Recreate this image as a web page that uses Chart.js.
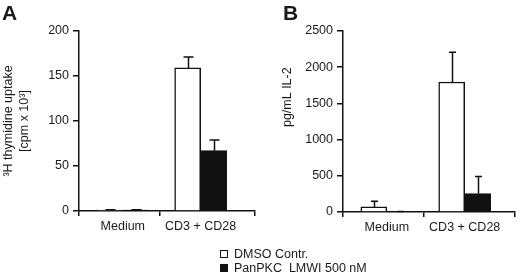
<!DOCTYPE html>
<html>
<head>
<meta charset="utf-8">
<script src="https://cdn.jsdelivr.net/npm/chart.js@4/dist/chart.umd.min.js"></script>
<style>
  html, body { margin: 0; padding: 0; background: #fff; }
  body { width: 520px; height: 275px; position: relative; overflow: hidden;
         font-family: "Liberation Sans", Arial, sans-serif; color: #1a1a1a; }
  canvas { position: absolute; top: 0; }
  #cA { left: 0; }
  #cB { left: 260px; }
  .panel { position: absolute; font-weight: bold; font-size: 21px; line-height: 1; }
  .leg { position: absolute; left: 220px; font-size: 12.5px; white-space: pre; line-height: 14px; }
  .sw { display: inline-block; width: 6px; height: 6px; border: 1.5px solid #111; margin-right: 6px; vertical-align: 0px; }
</style>
</head>
<body>
<canvas id="cA" width="260" height="275"></canvas>
<canvas id="cB" width="260" height="275"></canvas>
<div class="panel" style="left:2px;top:2px;">A</div>
<div class="panel" style="left:283px;top:2px;">B</div>
<div class="leg" style="top:247px;"><span class="sw" style="background:#fff"></span>DMSO Contr.</div>
<div class="leg" style="top:261px;"><span class="sw" style="background:#111"></span>PanPKC  LMWI 500 nM</div>
<script>
// ---- data ----
const categories = ["Medium", "CD3 + CD28"];
const catPos = [0.54, 1.5];
const seriesNames = ["DMSO Contr.", "PanPKC  LMWI 500 nM"];

const thymidineDMSO = [1, 159];
const thymidineDMSOErr = [0.5, 12];
const thymidinePKC = [1, 67];
const thymidinePKCErr = [0.5, 12];

const il2DMSO = [70, 1795];
const il2DMSOErr = [80, 410];
const il2PKC = [4, 255];
const il2PKCErr = [4, 235];

const yTicksA = [0, 50, 100, 150, 200];
const yTicksB = [0, 500, 1000, 1500, 2000, 2500];

// ---- helpers ----
const FONT = '"Liberation Sans", Arial, sans-serif';
const INK = '#1a1a1a';

const errorBars = {
  id: 'errorBars',
  afterDatasetsDraw(chart, args, opts) {
    const ctx = chart.ctx;
    const y = chart.scales.y;
    ctx.save();
    ctx.strokeStyle = '#111';
    ctx.lineWidth = 1.5;
    chart.data.datasets.forEach((ds, di) => {
      const meta = chart.getDatasetMeta(di);
      meta.data.forEach((el, i) => {
        const v = ds.data[i].y;
        const e = ds.errors[i];
        const top = y.getPixelForValue(v);
        const et = y.getPixelForValue(v + e);
        const cx = Math.round(el.x) + 0.5;
        ctx.beginPath();
        ctx.moveTo(cx, top);
        ctx.lineTo(cx, et);
        ctx.moveTo(cx - opts.cap / 2, et);
        ctx.lineTo(cx + opts.cap / 2, et);
        ctx.stroke();
      });
    });
    ctx.restore();
  }
};

function makeChart(id, d1, e1, d2, e2, yTicks, opt) {
  const pts = arr => arr.map((v, i) => ({ x: catPos[i], y: v }));
  const tickVals = [0, catPos[0], 1, catPos[1], opt.xMax];
  return new Chart(document.getElementById(id), {
    type: 'bar',
    data: {
      datasets: [
        { label: seriesNames[0], data: pts(d1), errors: e1, backgroundColor: '#ffffff',
          borderColor: '#111', borderWidth: 1.5, barThickness: 26 },
        { label: seriesNames[1], data: pts(d2), errors: e2, backgroundColor: '#111111',
          borderColor: '#111', borderWidth: 1.5, barThickness: 26 }
      ]
    },
    options: {
      responsive: false,
      animation: false,
      layout: { padding: { top: 31, right: opt.padRight, bottom: 0, left: 0 } },
      plugins: { legend: { display: false }, tooltip: { enabled: false },
                 errorBars: { cap: opt.cap } },
      scales: {
        x: {
          type: 'linear', min: 0, max: opt.xMax, bounds: 'data', offset: false,
          afterBuildTicks: s => { s.ticks = tickVals.map(v => ({ value: v })); },
          afterFit: s => { s.height = opt.xHeight; },
          border: { display: true, color: '#111', width: 1.5 },
          grid: { offset: false, drawOnChartArea: false, tickLength: 5, lineWidth: 1.5,
                  tickColor: c => (c.tick && catPos.includes(c.tick.value)) ? 'rgba(0,0,0,0)' : '#111' },
          ticks: {
            autoSkip: false, maxRotation: 0, padding: 3, color: INK,
            font: { family: FONT, size: 12.5 },
            callback: v => { const k = catPos.indexOf(v); return k >= 0 ? categories[k] : ''; }
          }
        },
        y: {
          min: 0, max: yTicks[yTicks.length - 1],
          afterBuildTicks: s => { s.ticks = yTicks.map(v => ({ value: v })); },
          afterFit: s => { s.width = opt.yWidth; },
          border: { display: true, color: '#111', width: 1.5 },
          grid: { drawOnChartArea: false, tickLength: 6, lineWidth: 1.5, tickColor: '#111' },
          ticks: { padding: 4, color: INK, font: { family: FONT, size: 12.5 },
                   callback: v => String(v) },
          title: { display: true, text: opt.title, color: INK,
                   font: { family: FONT, size: 12.5, lineHeight: 1.25 },
                   padding: { top: opt.titlePad, bottom: 0 } }
        }
      }
    },
    plugins: [errorBars]
  });
}

makeChart('cA', thymidineDMSO, thymidineDMSOErr, thymidinePKC, thymidinePKCErr, yTicksA,
  { xMax: 2.17, padRight: 5, xHeight: 64, yWidth: 79, cap: 10, titlePad: 1,
    title: ['\u00B3H thymidine uptake', '[cpm x 10\u00B3]'] });
makeChart('cB', il2DMSO, il2DMSOErr, il2PKC, il2PKCErr, yTicksB,
  { xMax: 2.12, padRight: 5, xHeight: 63, yWidth: 83, cap: 7, titlePad: 20,
    title: '              pg/mL IL-2' });
</script>
</body>
</html>
